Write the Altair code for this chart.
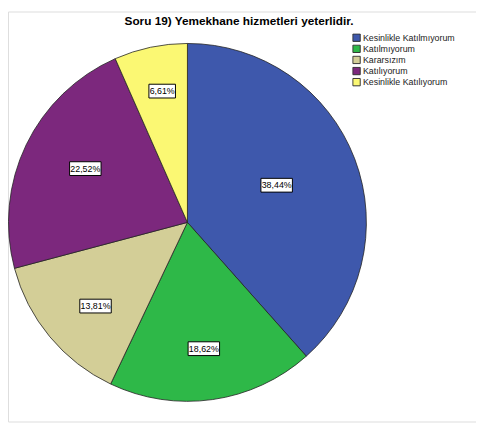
import altair as alt
import pandas as pd

categories = ["Kesinlikle Katılmıyorum", "Katılmıyorum", "Kararsızım", "Katılıyorum", "Kesinlikle Katılıyorum"]
values = [38.44, 18.62, 13.81, 22.52, 6.61]
labels = ["38,44%", "18,62%", "13,81%", "22,52%", "6,61%"]
colors = ["#3E58AC", "#2EB848", "#D3CE97", "#7C287D", "#FBF873"]
title_text = "Soru 19) Yemekhane hizmetleri yeterlidir."

df = pd.DataFrame({"cat": categories, "val": values, "label": labels, "order": list(range(len(categories)))})

W, H = 476, 417
CX, CY, R = 182.5, 214.5, 182
RX, RY = 177.5, 194.5

base = alt.Chart(df).transform_window(
    cum="sum(val)", sort=[alt.SortField("order")], frame=[None, 0]
).transform_calculate(
    t1="datum.cum / 100 * 2 * PI",
    t0="(datum.cum - datum.val) / 100 * 2 * PI",
).transform_calculate(
    mid="(datum.t0 + datum.t1) / 2",
    half="(datum.t1 - datum.t0) / 2",
).transform_calculate(
    d="2 / 3 * sin(datum.half) / datum.half * 1.06"
).transform_calculate(
    lx=f"{CX} + {RX} * datum.d * sin(datum.mid)",
    ly=f"{CY} - {RY} * datum.d * cos(datum.mid)",
    w="length(datum.label) * 5 + 2",
).transform_calculate(
    bx0="datum.lx - datum.w / 2",
    bx1="datum.lx + datum.w / 2",
    by0="datum.ly - 7",
    by1="datum.ly + 7",
)

color = alt.Color(
    "cat:N",
    scale=alt.Scale(domain=categories, range=colors),
    legend=alt.Legend(
        title=None, orient="none", legendX=350, legendY=22,
        symbolType="square", symbolSize=56, symbolStrokeColor="#333333",
        symbolStrokeWidth=1, labelFont="Liberation Sans", labelFontSize=9,
        labelColor="#222222", rowPadding=1.3, labelOffset=2, padding=0,
        clipHeight=9.3, symbolOpacity=1,
    ),
)

arcs = base.mark_arc(stroke="#222222", strokeWidth=0.8, opacity=1).encode(
    theta=alt.Theta("t0:Q", scale=None),
    theta2="t1:Q",
    x=alt.value(CX), y=alt.value(CY),
    color=color,
    radius=alt.value(R),
)

boxes = base.mark_rect(fill="white", stroke="black", strokeWidth=1).encode(
    x=alt.X("bx0:Q", scale=None), x2="bx1:Q",
    y=alt.Y("by0:Q", scale=None), y2="by1:Q",
)

texts = base.mark_text(font="Liberation Sans", fontSize=9, color="black", align="center", baseline="middle").encode(
    x=alt.X("lx:Q", scale=None), y=alt.Y("ly:Q", scale=None), text="label:N",
)

title = alt.Chart(pd.DataFrame({"t": [title_text]})).mark_text(
    font="Liberation Sans", fontSize=12, fontWeight="bold", color="black", align="center", baseline="alphabetic"
).encode(x=alt.value(235), y=alt.value(13.5), text="t:N")

chart = alt.layer(arcs, boxes, texts, title).properties(
    width=W, height=H, autosize=alt.AutoSizeParams(type="none"), padding=0
).configure_view(strokeWidth=0, stroke="transparent").configure(background="white")

chart.save("out.html", embed_options={"renderer": "svg", "actions": False})
